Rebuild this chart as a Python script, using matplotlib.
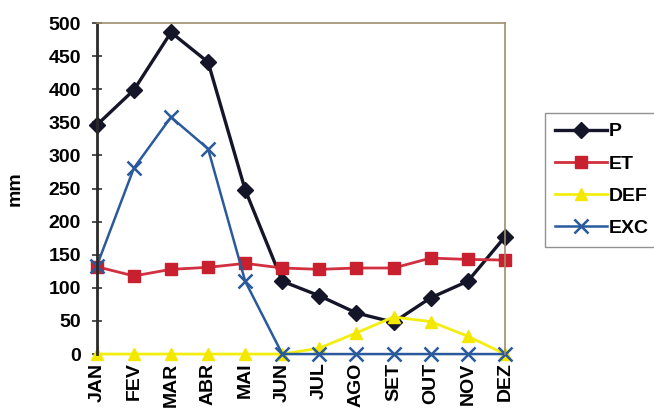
import numpy as np
import matplotlib.pyplot as plt

plt.rcParams['font.family'] = ['Liberation Sans', 'DejaVu Sans']
plt.rcParams['font.weight'] = 'bold'

# monthly water balance (mm)
meses = ['JAN', 'FEV', 'MAR', 'ABR', 'MAI', 'JUN',
         'JUL', 'AGO', 'SET', 'OUT', 'NOV', 'DEZ']
P = [346, 399, 486, 441, 248, 110, 88, 62, 48, 85, 110, 177]
ET = [132, 118, 128, 131, 137, 130, 128, 130, 130, 145, 143, 142]
DEF = [0, 0, 0, 0, 0, 0, 9, 32, 56, 49, 27, 0]
EXC = [133, 281, 358, 310, 110, 0, 0, 0, 0, 0, 0, 0]

x = np.arange(len(meses))

fig = plt.figure(figsize=(6.54, 4.2), dpi=100)
ax = fig.add_axes([0.148, 0.157, 0.624, 0.788])

ax.plot(x, P, color='#15152a', lw=2.4, marker='D', ms=8, label='P', clip_on=False)
ax.plot(x, ET, color='#d0303f', lw=2, marker='s', ms=9, mfc='#c8202e',
        mec='#c8202e', label='ET', clip_on=False)
ax.plot(x, DEF, color='#f2ee10', lw=2, marker='^', ms=9, mfc='#f5e800',
        mec='#f5e800', label='DEF', clip_on=False)
ax.plot(x, EXC, color='#2a5a9c', lw=1.8, marker='x', ms=10, mew=1.8,
        label='EXC', clip_on=False)

ax.set_xlim(0, 11)
ax.set_ylim(0, 500)
ax.set_yticks(np.arange(0, 501, 50))
ax.set_xticks(x)
ax.set_xticklabels(meses, rotation=90, fontsize=14, fontweight='bold')
ax.tick_params(axis='y', direction='inout', length=7, width=1.2,
               labelsize=14, pad=8, color='#333333')
ax.tick_params(axis='x', length=0, pad=6)

ax.spines['left'].set_linewidth(2)
ax.spines['left'].set_color('#2a2a2a')
for s in ('top', 'right'):
    ax.spines[s].set_color('#a08c6c')
    ax.spines[s].set_linewidth(1.2)
ax.spines['bottom'].set_visible(False)

ax.set_ylabel('mm', fontsize=14, fontweight='bold', labelpad=18)

fig.legend(loc='upper left', bbox_to_anchor=(0.833, 0.731), borderaxespad=0,
           fontsize=14, frameon=True, fancybox=False, edgecolor='#777777',
           borderpad=0.5, handlelength=2.7, handletextpad=0.1,
           labelspacing=0.75)

fig.savefig('out.png', dpi=100)
